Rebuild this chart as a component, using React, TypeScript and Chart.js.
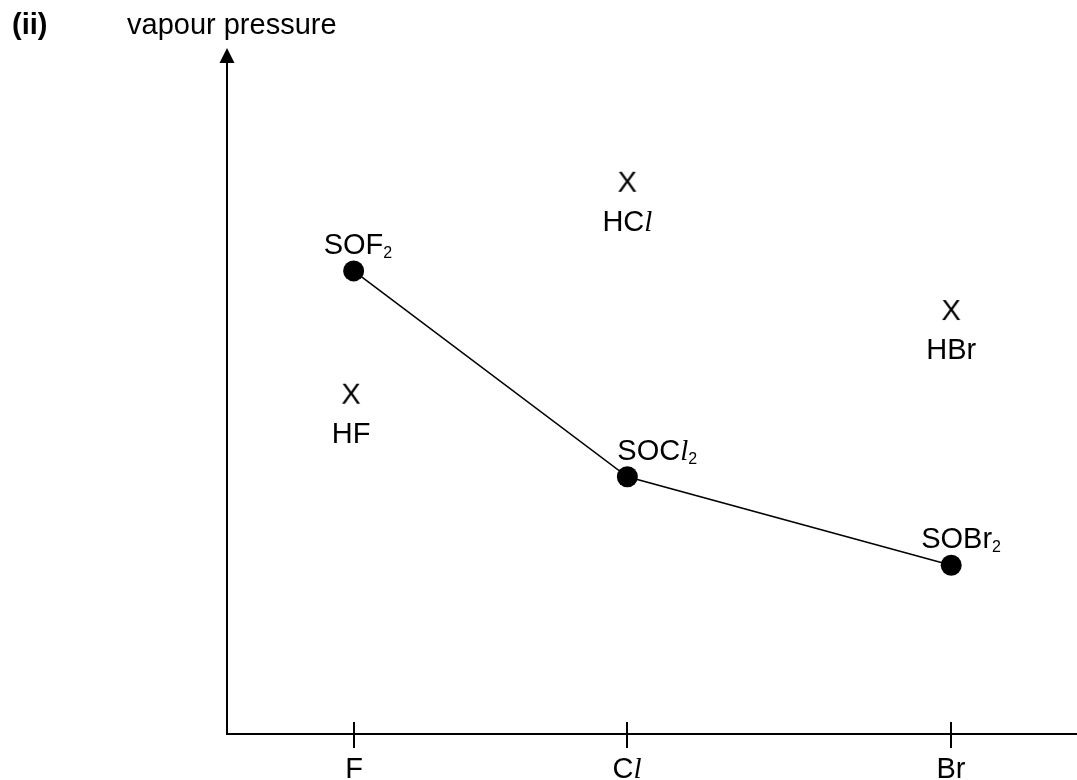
import React, { useEffect, useRef } from "react";
import { Chart, registerables } from "chart.js";

Chart.register(...registerables);

// ---- data ----
const categories = ["F", "Cl", "Br"];
const categoryX = [14.9, 47.1, 85.2]; // position of each halogen along the x axis (0..100)
const soNames = ["SOF2", "SOCl2", "SOBr2"];
const soValues = [67.5, 37.5, 24.6]; // thionyl halides (joined by a line)
const hxNames = ["HF", "HCl", "HBr"];
const hxX = [14.6, 47.1, 85.2];
const hxValues = [49.6, 80.5, 61.8]; // hydrogen halides (marked X)

// ---- styles ----
const SANS = '"Liberation Sans", Arial, Helvetica, sans-serif';
const SERIF = '"Liberation Serif", "Times New Roman", serif';
const FS = 29;
const SUB = 16;

type Seg = { t: string; it?: boolean; sub?: boolean; bold?: boolean };

// rich text: "l" in chemical symbols is italic serif; digits after an element are subscripts
function parseFormula(s: string): Seg[] {
  const segs: Seg[] = [];
  for (const ch of s) {
    if (ch === "l") segs.push({ t: "l", it: true });
    else if (/[0-9]/.test(ch)) segs.push({ t: ch, sub: true });
    else {
      const last = segs[segs.length - 1];
      if (last && !last.it && !last.sub) last.t += ch;
      else segs.push({ t: ch });
    }
  }
  return segs;
}

function segFont(s: Seg) {
  if (s.sub) return `${SUB}px ${SANS}`;
  if (s.it) return `italic ${FS}px ${SERIF}`;
  return `${s.bold ? "bold " : ""}${FS}px ${SANS}`;
}

function drawRich(ctx: CanvasRenderingContext2D, segs: Seg[], x: number, y: number, align: "left" | "center") {
  ctx.save();
  ctx.textAlign = "left";
  ctx.textBaseline = "alphabetic";
  ctx.fillStyle = "#000";
  let w = 0;
  for (const s of segs) {
    ctx.font = segFont(s);
    w += ctx.measureText(s.t).width;
  }
  let cx = align === "center" ? x - w / 2 : x;
  for (const s of segs) {
    ctx.font = segFont(s);
    ctx.fillText(s.t, cx, y + (s.sub ? 4 : 0));
    cx += ctx.measureText(s.t).width;
  }
  ctx.restore();
}

function makeXGlyph(): HTMLCanvasElement {
  const c = document.createElement("canvas");
  c.width = 26;
  c.height = 26;
  const g = c.getContext("2d")!;
  g.fillStyle = "#000";
  g.font = `${FS}px ${SANS}`;
  g.textAlign = "center";
  g.textBaseline = "alphabetic";
  g.fillText("X", 13, 13 + FS * 0.716 / 2);
  return c;
}

// label placement relative to marks
const soLabelDx = [-30, -10, -30];
const soLabelDy = -17;
const hxLabelDy = 49;

const axesPlugin = {
  id: "axesAndLabels",
  beforeDatasetsDraw(chart: any) {
    const { ctx, chartArea, scales } = chart;
    const x0 = Math.round(scales.x.getPixelForValue(0));
    const y0 = Math.round(scales.y.getPixelForValue(0));
    ctx.save();
    ctx.strokeStyle = "#000";
    ctx.fillStyle = "#000";
    ctx.lineWidth = 2;
    // x axis
    ctx.beginPath();
    ctx.moveTo(x0 - 1, y0);
    ctx.lineTo(chart.width, y0);
    ctx.stroke();
    // y axis with arrow
    const top = chartArea.top;
    ctx.beginPath();
    ctx.moveTo(x0, y0 + 1);
    ctx.lineTo(x0, top + 12);
    ctx.stroke();
    ctx.beginPath();
    ctx.moveTo(x0, top);
    ctx.lineTo(x0 - 7.5, top + 15);
    ctx.lineTo(x0 + 7.5, top + 15);
    ctx.closePath();
    ctx.fill();
    // ticks and tick labels
    categories.forEach((c, i) => {
      const px = Math.round(scales.x.getPixelForValue(categoryX[i]));
      ctx.beginPath();
      ctx.moveTo(px, y0 - 12);
      ctx.lineTo(px, y0 + 14);
      ctx.stroke();
      drawRich(ctx, parseFormula(c), px, y0 + 44, "center");
    });
    ctx.restore();
    // titles
    drawRich(ctx, [{ t: "(ii)", bold: true }], 12, 34, "left");
    drawRich(ctx, [{ t: "vapour pressure" }], 127, 34, "left");
  },
  afterDatasetsDraw(chart: any) {
    const { ctx, scales } = chart;
    soNames.forEach((n, i) => {
      const px = scales.x.getPixelForValue(categoryX[i]);
      const py = scales.y.getPixelForValue(soValues[i]);
      drawRich(ctx, parseFormula(n), px + soLabelDx[i], py + soLabelDy, "left");
    });
    hxNames.forEach((n, i) => {
      const px = scales.x.getPixelForValue(hxX[i]);
      const py = scales.y.getPixelForValue(hxValues[i]);
      drawRich(ctx, parseFormula(n), px, py + hxLabelDy, "center");
    });
  },
};

export default function App() {
  const ref = useRef<HTMLCanvasElement | null>(null);
  useEffect(() => {
    document.body.style.margin = "0";
    const canvas = ref.current!;
    const xGlyph = makeXGlyph();
    const chart = new Chart(canvas, {
      type: "scatter",
      data: {
        datasets: [
          {
            label: "SOX2",
            data: categoryX.map((x, i) => ({ x, y: soValues[i] })),
            showLine: true,
            borderColor: "#000",
            borderWidth: 1.5,
            pointRadius: 10.5,
            pointBackgroundColor: "#000",
            pointBorderWidth: 0,
            pointHoverRadius: 10.5,
          },
          {
            label: "HX",
            data: hxX.map((x, i) => ({ x, y: hxValues[i] })),
            showLine: false,
            pointStyle: xGlyph as any,
            pointRadius: 13,
          },
        ],
      },
      options: {
        animation: false,
        responsive: false,
        devicePixelRatio: 1,
        events: [],
        layout: { autoPadding: false, padding: { left: 227, top: 48, right: 0, bottom: 46 } },
        plugins: { legend: { display: false }, tooltip: { enabled: false } },
        scales: {
          x: { type: "linear", min: 0, max: 100, display: false },
          y: { type: "linear", min: 0, max: 100, display: false },
        },
      },
      plugins: [axesPlugin],
    });
    return () => chart.destroy();
  }, []);
  return <canvas ref={ref} width={1077} height={780} style={{ display: "block" }} />;
}
